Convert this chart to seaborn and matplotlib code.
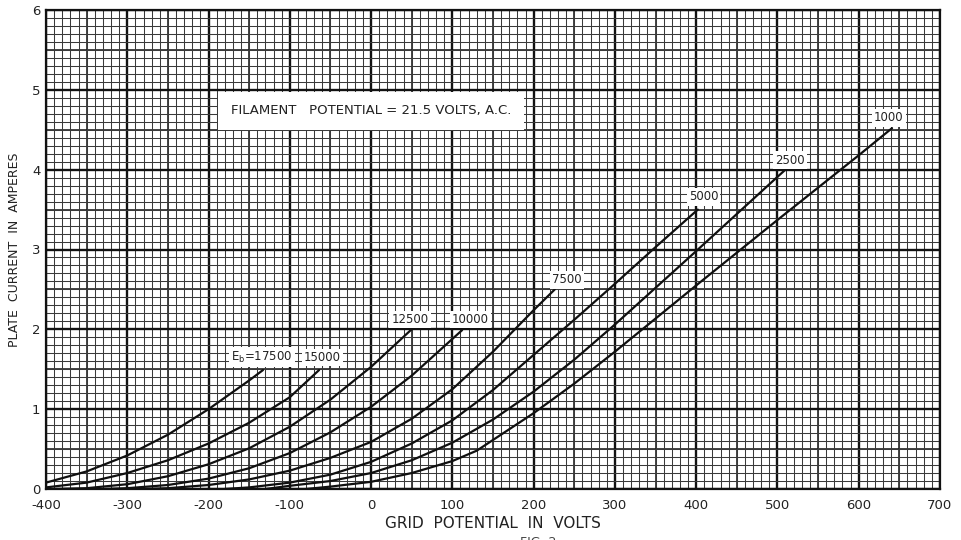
import numpy as np
import pandas as pd
import matplotlib
matplotlib.use("Agg")
import matplotlib.pyplot as plt
from matplotlib.ticker import MultipleLocator
import seaborn as sns

# ---- data ----
V17500 = [-400, -350, -300, -250, -200, -150, -133]
I17500 = [0.08, 0.22, 0.42, 0.68, 1.00, 1.36, 1.49]
V15000 = [-400, -350, -300, -250, -200, -150, -100, -64]
I15000 = [0.02, 0.08, 0.20, 0.36, 0.57, 0.83, 1.15, 1.49]
V12500 = [-390, -350, -300, -250, -200, -150, -100, -50, 0, 52]
I12500 = [0.00, 0.01, 0.06, 0.16, 0.31, 0.51, 0.78, 1.12, 1.53, 2.02]
V10000 = [-330, -300, -250, -200, -150, -100, -50, 0, 50, 112]
I10000 = [0.00, 0.01, 0.05, 0.13, 0.26, 0.45, 0.71, 1.03, 1.42, 1.99]
V7500 = [-280, -250, -200, -150, -100, -50, 0, 50, 100, 150, 200, 226]
I7500 = [0.00, 0.01, 0.05, 0.12, 0.23, 0.39, 0.59, 0.88, 1.25, 1.72, 2.24, 2.50]
V5000 = [-180, -150, -100, -50, 0, 50, 100, 150, 200, 250, 300, 350, 402]
I5000 = [0.00, 0.02, 0.08, 0.18, 0.34, 0.57, 0.86, 1.24, 1.68, 2.12, 2.57, 3.03, 3.50]
V2500 = [-130, -100, -50, 0, 50, 100, 150, 200, 250, 300, 400, 500, 512]
I2500 = [0.00, 0.04, 0.10, 0.20, 0.36, 0.58, 0.87, 1.22, 1.62, 2.06, 2.98, 3.91, 4.02]
V1000 = [-80, -50, 0, 50, 100, 130, 200, 250, 300, 400, 500, 600, 641]
I1000 = [0.00, 0.03, 0.09, 0.20, 0.35, 0.48, 0.95, 1.32, 1.72, 2.55, 3.37, 4.18, 4.52]

curve_names = ["17500", "15000", "12500", "10000", "7500", "5000", "2500", "1000"]
curve_V = [V17500, V15000, V12500, V10000, V7500, V5000, V2500, V1000]
curve_I = [I17500, I15000, I12500, I10000, I7500, I5000, I2500, I1000]

# curve labels: text and anchor (V, I)
label_texts = ["E$_\\mathsf{b}$=17500", "15000", "12500", "10000", "7500", "5000", "2500", "1000"]
label_V = [-134, -60, 48, 122, 241, 409, 515, 637]
label_I = [1.65, 1.65, 2.12, 2.12, 2.62, 3.66, 4.12, 4.65]

x_ticks = [-400, -300, -200, -100, 0, 100, 200, 300, 400, 500, 600, 700]
y_ticks = [0, 1, 2, 3, 4, 5, 6]

note_text = "FILAMENT   POTENTIAL = 21.5 VOLTS, A.C."
x_title = "GRID  POTENTIAL  IN  VOLTS"
y_title = "PLATE  CURRENT  IN  AMPERES"

rows = []
for name, vs, cs in zip(curve_names, curve_V, curve_I):
    for v, c in zip(vs, cs):
        rows.append({"curve": name, "grid_v": v, "plate_a": c})
df = pd.DataFrame(rows)

sns.set_theme(style="white")
plt.rcParams["font.family"] = ["DejaVu Sans"]

fig = plt.figure(figsize=(9.61, 5.40), dpi=100)
ax = fig.add_axes([46 / 961, 51 / 540, (940 - 46) / 961, (489 - 10) / 540])

ax.set_xlim(-400, 700)
ax.set_ylim(0, 6)

# graph-paper grid
ax.xaxis.set_major_locator(MultipleLocator(100))
ax.xaxis.set_minor_locator(MultipleLocator(10))
ax.yaxis.set_major_locator(MultipleLocator(1))
ax.yaxis.set_minor_locator(MultipleLocator(0.1))
ax.grid(which="minor", color="#3a3a3a", linewidth=0.75, zorder=0)
ax.grid(which="major", color="#111111", linewidth=1.7, zorder=0)
for xv in np.arange(-350, 700, 100):
    ax.axvline(xv, color="#1a1a1a", linewidth=1.15, zorder=0)
for yv in np.arange(0.5, 6, 1.0):
    ax.axhline(yv, color="#1a1a1a", linewidth=1.15, zorder=0)
ax.set_axisbelow(True)

sns.lineplot(data=df, x="grid_v", y="plate_a", hue="curve", units="curve",
             estimator=None, sort=False, palette=["#101010"] * len(curve_names),
             linewidth=1.6, legend=False, ax=ax, zorder=3)

box = dict(facecolor="white", edgecolor="none", pad=1.6)
for t, v, c in zip(label_texts, label_V, label_I):
    ax.text(v, c, t, ha="center", va="center", fontsize=8.5, color="#222222",
            bbox=box, zorder=5)

ax.text(0, 4.74, note_text, ha="center", va="center", fontsize=9.5,
        color="#222222", bbox=dict(facecolor="white", edgecolor="none", pad=9),
        zorder=5)

ax.set_xticks(x_ticks)
ax.set_yticks(y_ticks)
ax.set_xticklabels([str(t) for t in x_ticks], fontsize=9.5, color="#222222")
ax.set_yticklabels([str(t) for t in y_ticks], fontsize=9.5, color="#222222")
ax.tick_params(axis="x", which="both", length=0, pad=7)
ax.tick_params(axis="y", which="both", length=0, pad=4)

ax.set_xlabel(x_title, fontsize=11, color="#222222", labelpad=3)
ax.set_ylabel(y_title, fontsize=9, color="#222222", labelpad=8)

for sp in ax.spines.values():
    sp.set_color("#111111")
    sp.set_linewidth(1.6)

fig.text(0.56, -0.005, "FIG. 2", ha="center", va="center", fontsize=9,
         color="#444444")

fig.savefig("out.png", dpi=100, facecolor="white")
